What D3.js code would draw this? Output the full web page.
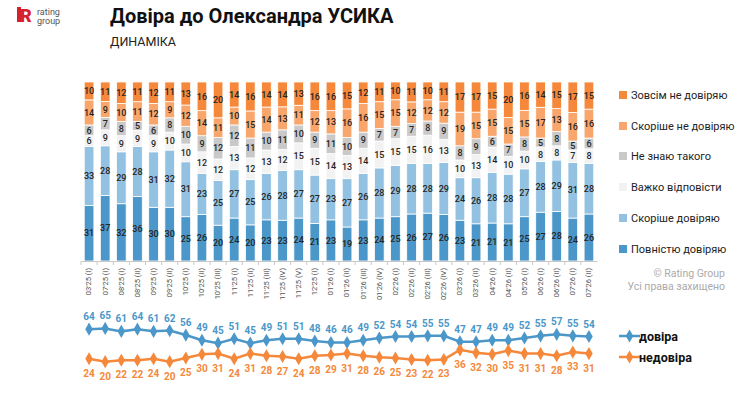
<!DOCTYPE html>
<meta charset="utf-8">
<style>
  body { margin: 0; background: #fff; }
  text { font-family: Roboto, "Noto Sans", sans-serif; }
</style>
<script src="https://d3js.org/d3.v7.min.js"></script>
<svg id="chart" width="740" height="400"></svg>
<script>
  // Waves of the survey
  var waves = ["03'25 (I)", "07'25 (I)", "08'25 (I)", "08'25 (II)", "09'25 (I)", "09'25 (II)",
    "10'25 (I)", "10'25 (II)", "10'25 (III)", "11'25 (I)", "11'25 (II)", "11'25 (III)",
    "11'25 (IV)", "11'25 (V)", "12'25 (I)", "01'26 (I)", "01'26 (II)", "01'26 (III)",
    "01'26 (IV)", "02'26 (I)", "02'26 (II)", "02'26 (III)", "02'26 (IV)", "03'26 (I)",
    "03'26 (II)", "04'26 (I)", "04'26 (II)", "05'26 (I)", "06'26 (I)", "06'26 (II)",
    "07'26 (I)", "07'26 (II)"];

  // Answers, bottom to top
  var fullyTrust   = [31, 37, 32, 36, 30, 30, 25, 26, 20, 24, 20, 23, 23, 24, 21, 23, 19, 23, 24, 25, 26, 27, 26, 23, 21, 21, 21, 25, 27, 28, 24, 26];
  var ratherTrust  = [33, 28, 29, 28, 31, 32, 31, 23, 25, 27, 25, 26, 28, 27, 27, 23, 27, 26, 28, 29, 28, 28, 29, 24, 26, 28, 28, 27, 28, 29, 31, 28];
  var hardToSay    = [6, 9, 9, 9, 9, 10, 10, 12, 12, 13, 12, 13, 12, 15, 15, 14, 13, 14, 15, 15, 15, 16, 13, 10, 13, 14, 10, 10, 8, 8, 7, 8];
  var dontKnow     = [6, 7, 8, 5, 6, 8, 10, 9, 12, 12, 11, 10, 11, 10, 9, 11, 10, 9, 7, 7, 7, 8, 9, 8, 9, 6, 7, 8, 5, 8, 5, 6];
  var ratherNot    = [14, 9, 10, 11, 12, 9, 12, 14, 11, 10, 15, 14, 13, 11, 12, 13, 16, 16, 15, 15, 12, 12, 12, 19, 15, 15, 15, 15, 17, 13, 16, 16];
  var notAtAll     = [10, 11, 12, 11, 12, 11, 13, 16, 20, 14, 16, 14, 14, 13, 16, 16, 15, 12, 11, 10, 11, 10, 11, 17, 17, 15, 20, 16, 14, 15, 17, 15];

  // Totals
  var trust    = [64, 65, 61, 64, 61, 62, 56, 49, 45, 51, 45, 49, 51, 51, 48, 46, 46, 49, 52, 54, 54, 55, 55, 47, 47, 49, 49, 52, 55, 57, 55, 54];
  var distrust = [24, 20, 22, 22, 24, 20, 25, 30, 31, 24, 31, 28, 27, 24, 28, 29, 31, 28, 26, 25, 23, 22, 23, 36, 32, 30, 35, 31, 31, 28, 33, 31];

  var seriesNames = ["Повністю довіряю", "Скоріше довіряю", "Важко відповісти", "Не знаю такого", "Скоріше не довіряю", "Зовсім не довіряю"];
  var seriesValues = [fullyTrust, ratherTrust, hardToSay, dontKnow, ratherNot, notAtAll];
  var colors = ["#4b97c9", "#93c1e1", "#f2f2f2", "#c9c9c9", "#f9a66c", "#f5883a"];

  var svg = d3.select("#chart");

  // Logo
  var logo = svg.append("g").attr("transform", "translate(17,7)");
  logo.append("rect").attr("x", 0).attr("y", 0).attr("width", 4).attr("height", 15).attr("fill", "#d6202b");
  logo.append("text").attr("x", 3).attr("y", 14.5).attr("font-size", 18).attr("font-weight", 900)
    .attr("fill", "#d6202b").text("R");
  logo.append("text").attr("x", 20).attr("y", 7.5).attr("font-size", 9).attr("fill", "#555").text("rating");
  logo.append("text").attr("x", 20).attr("y", 16.5).attr("font-size", 9).attr("fill", "#555").text("group");

  // Title
  svg.append("text").attr("x", 110).attr("y", 23).attr("font-size", 20).attr("font-weight", 700)
    .attr("fill", "#111").text("Довіра до Олександра УСИКА");
  svg.append("text").attr("x", 110).attr("y", 46).attr("font-size", 12.5)
    .attr("fill", "#222").text("ДИНАМІКА");

  // Table for stacking
  var table = waves.map(function(w, i) {
    var row = { wave: w };
    seriesNames.forEach(function(s, j) { row[s] = seriesValues[j][i]; });
    return row;
  });

  var stack = d3.stack().keys(seriesNames).offset(d3.stackOffsetExpand);
  var stacked = stack(table);

  var x = d3.scaleBand().domain(waves).range([81, 597]).paddingInner(0.4).paddingOuter(0.2);
  var y = d3.scaleLinear().domain([0, 1]).range([261, 82]);

  var layers = svg.append("g").selectAll("g")
    .data(stacked)
    .enter().append("g")
    .attr("fill", function(d, i) { return colors[i]; });

  layers.selectAll("rect")
    .data(function(d) { return d; })
    .enter().append("rect")
    .attr("x", function(d) { return x(d.data.wave); })
    .attr("y", function(d) { return y(d[1]); })
    .attr("width", x.bandwidth())
    .attr("height", function(d) { return y(d[0]) - y(d[1]); })
    .attr("stroke", "#fff")
    .attr("stroke-width", 0.8);

  layers.selectAll("text")
    .data(function(d) { return d.map(function(p) { p.key = d.key; return p; }); })
    .enter().append("text")
    .attr("x", function(d) { return x(d.data.wave) + x.bandwidth() / 2; })
    .attr("y", function(d) { return (y(d[0]) + y(d[1])) / 2 + 3.2; })
    .attr("text-anchor", "middle")
    .attr("font-size", 9)
    .attr("font-weight", 500)
    .attr("fill", "#262626")
    .text(function(d) { return d.data[d.key]; });

  // X axis
  var xAxis = svg.append("g")
    .attr("transform", "translate(0,261)")
    .call(d3.axisBottom(x).tickSize(0).tickSizeOuter(0));
  xAxis.select(".domain").attr("stroke", "#c8c8c8");
  xAxis.selectAll(".tick text")
    .attr("font-size", 7.5)
    .attr("fill", "#555")
    .attr("text-anchor", "end")
    .attr("x", 0).attr("y", 0)
    .attr("dx", "-0.4em")
    .attr("dy", "0.32em")
    .attr("transform", "translate(0,4) rotate(-90)");
  var half = x.step() * x.paddingInner() / 2;
  xAxis.selectAll(".sep")
    .data(waves)
    .enter().append("line")
    .attr("x1", function(d) { return x(d) - half; })
    .attr("x2", function(d) { return x(d) - half; })
    .attr("y1", 0).attr("y2", 4)
    .attr("stroke", "#c8c8c8");

  // Legend for bars
  var legend = svg.append("g");
  var legendY = [95, 126, 156, 187, 218, 249];
  seriesNames.slice().reverse().forEach(function(name, i) {
    var ci = seriesNames.length - 1 - i;
    legend.append("rect").attr("x", 619).attr("y", legendY[i] - 4).attr("width", 8).attr("height", 8)
      .attr("fill", colors[ci]);
    legend.append("text").attr("x", 631).attr("y", legendY[i] + 4).attr("font-size", 11)
      .attr("fill", "#222").text(name);
  });

  svg.append("text").attr("x", 725).attr("y", 277).attr("text-anchor", "end")
    .attr("font-size", 10.5).attr("fill", "#aaa").text("© Rating Group");
  svg.append("text").attr("x", 725).attr("y", 290).attr("text-anchor", "end")
    .attr("font-size", 10.5).attr("fill", "#aaa").text("Усі права захищено");

  // Lines
  var yl = d3.scaleLinear().domain([0, 100]).range([376.5, 302.5]);
  var cx = function(d, i) { return x(waves[i]) + x.bandwidth() / 2; };
  var line = d3.line().x(cx).y(function(d) { return yl(d); });
  var diamond = d3.symbol().type(d3.symbolDiamond).size(50);

  var lineSeries = [
    { name: "довіра", values: trust, color: "#4b97c9", dy: -9 },
    { name: "недовіра", values: distrust, color: "#f5883a", dy: 18 }
  ];

  lineSeries.forEach(function(s, k) {
    var g = svg.append("g");
    g.append("path").datum(s.values).attr("d", line)
      .attr("fill", "none").attr("stroke", s.color).attr("stroke-width", 2.5);
    g.selectAll("path.pt").data(s.values).enter().append("path")
      .attr("class", "pt")
      .attr("d", diamond)
      .attr("transform", function(d, i) { return "translate(" + cx(d, i) + "," + yl(d) + ")"; })
      .attr("fill", s.color);
    g.selectAll("text").data(s.values).enter().append("text")
      .attr("x", cx)
      .attr("y", function(d) { return yl(d) + s.dy; })
      .attr("text-anchor", "middle")
      .attr("font-size", 10)
      .attr("font-weight", 700)
      .attr("fill", s.color)
      .text(function(d) { return d; });

    var ly = 336 + k * 21;
    svg.append("line").attr("x1", 619).attr("x2", 640).attr("y1", ly).attr("y2", ly)
      .attr("stroke", s.color).attr("stroke-width", 2.5);
    svg.append("path").attr("d", diamond).attr("transform", "translate(629.5," + ly + ")").attr("fill", s.color);
    svg.append("text").attr("x", 639).attr("y", ly + 4.5).attr("font-size", 12.5).attr("font-weight", 700)
      .attr("fill", "#111").text(s.name);
  });
</script>
